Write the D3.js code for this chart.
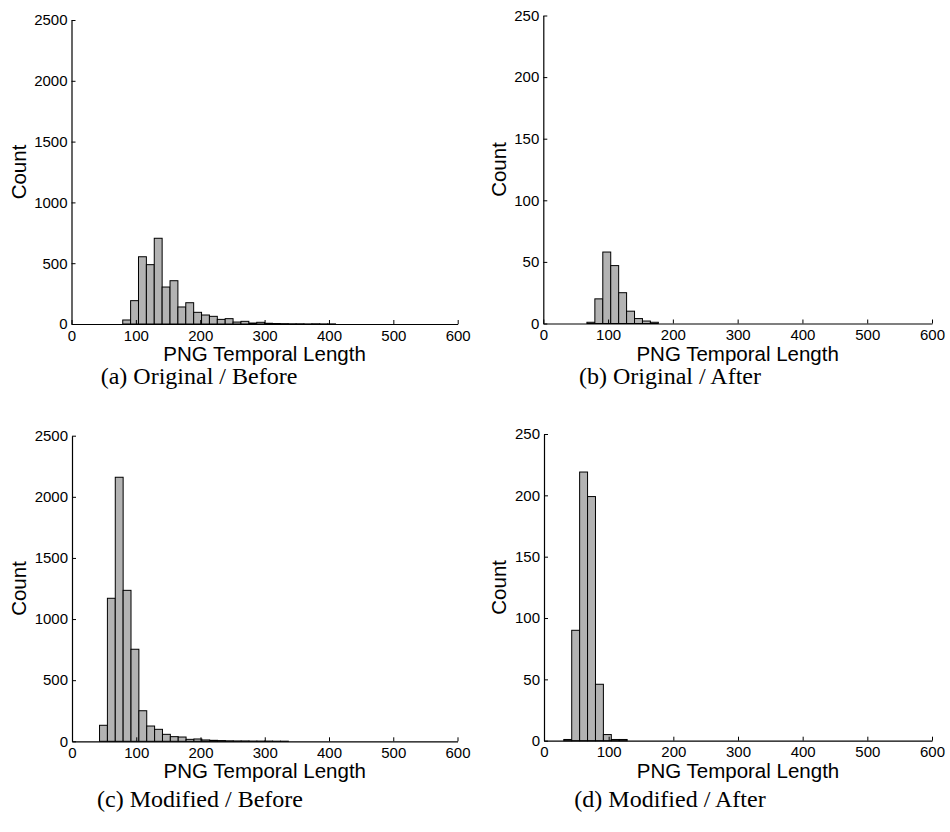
<!DOCTYPE html>
<html>
<head>
<meta charset="utf-8">
<script src="https://cdn.jsdelivr.net/npm/d3@7"></script>
<style>
  html, body { margin: 0; padding: 0; background: #ffffff; }
  svg { display: block; }
  .tick text { font-family: "Liberation Sans", Arial, sans-serif; font-size: 15px; fill: #000; }
  .axis-title { font-family: "Liberation Sans", Arial, sans-serif; font-size: 20.5px; fill: #000; }
  .caption { font-family: "Liberation Serif", "Times New Roman", serif; font-size: 24px; fill: #000; }
</style>
</head>
<body>
<svg id="fig" width="950" height="832"></svg>
<script>
// Histogram bins: 50 bins whose centres run evenly from 0 to 600
const binCount = 50;
const xMax = 600;
const xTicks = [0, 100, 200, 300, 400, 500, 600];

// Counts per bin (index 0..49)
const originalBefore = [
  0, 0, 0, 0, 0, 0, 0, 33, 192, 553,
  488, 705, 304, 356, 140, 175, 96, 74, 63, 38,
  44, 16, 22, 8, 14, 6, 4, 3, 2, 2,
  1, 2, 1, 1, 0, 0, 0, 0, 0, 0,
  0, 0, 0, 0, 0, 0, 0, 0, 0, 0
];
const originalAfter = [
  0, 0, 0, 0, 0, 0, 1, 20, 58, 47,
  25, 10, 4, 2, 1, 0, 0, 0, 0, 0,
  0, 0, 0, 0, 0, 0, 0, 0, 0, 0,
  0, 0, 0, 0, 0, 0, 0, 0, 0, 0,
  0, 0, 0, 0, 0, 0, 0, 0, 0, 0
];
const modifiedBefore = [
  0, 0, 0, 0, 131, 1170, 2160, 1235, 753, 250,
  125, 98, 57, 38, 35, 16, 19, 11, 8, 6,
  4, 3, 3, 2, 2, 2, 1, 1, 0, 0,
  0, 0, 0, 0, 0, 0, 0, 0, 0, 0,
  0, 0, 0, 0, 0, 0, 0, 0, 0, 0
];
const modifiedAfter = [
  0, 0, 0, 1, 90, 219, 199, 46, 5, 1,
  1, 0, 0, 0, 0, 0, 0, 0, 0, 0,
  0, 0, 0, 0, 0, 0, 0, 0, 0, 0,
  0, 0, 0, 0, 0, 0, 0, 0, 0, 0,
  0, 0, 0, 0, 0, 0, 0, 0, 0, 0
];

const yTicksBefore = [0, 500, 1000, 1500, 2000, 2500];
const yTicksAfter = [0, 50, 100, 150, 200, 250];

const captions = [
  "(a) Original / Before",
  "(b) Original / After",
  "(c) Modified / Before",
  "(d) Modified / After"
];
const xTitle = "PNG Temporal Length";
const yTitle = "Count";

// Panel geometry (plot area in page pixels)
const panels = [
  { counts: originalBefore, yTicks: yTicksBefore, x0: 71.5, x1: 457.7, yTop: 20,    yBase: 324,   capX: 199, capY: 384 },
  { counts: originalAfter,  yTicks: yTicksAfter,  x0: 543.3, x1: 932, yTop: 15.5,  yBase: 323.5, capX: 670, capY: 384 },
  { counts: modifiedBefore, yTicks: yTicksBefore, x0: 72,   x1: 457.5, yTop: 435.7, yBase: 741.3, capX: 200, capY: 807 },
  { counts: modifiedAfter,  yTicks: yTicksAfter,  x0: 544,  x1: 932, yTop: 434,   yBase: 740.7, capX: 670, capY: 807 }
];

const svg = d3.select("#fig");
const binStep = xMax / (binCount - 1);

panels.forEach((p, i) => {
  const yMax = p.yTicks[p.yTicks.length - 1];
  const x = d3.scaleLinear().domain([0, xMax]).range([p.x0, p.x1]);
  const y = d3.scaleLinear().domain([0, yMax]).range([p.yBase, p.yTop]);

  const g = svg.append("g");

  const clipId = "clip" + i;
  svg.append("clipPath").attr("id", clipId)
    .append("rect")
    .attr("x", p.x0).attr("y", p.yTop - 2)
    .attr("width", p.x1 - p.x0).attr("height", p.yBase - p.yTop + 4);

  const bins = p.counts.map((c, k) => ({ center: k * binStep, count: c }));

  g.append("g").attr("clip-path", `url(#${clipId})`)
    .selectAll("rect")
    .data(bins)
    .join("rect")
    .attr("x", d => x(d.center - binStep / 2))
    .attr("width", d => x(d.center + binStep / 2) - x(d.center - binStep / 2))
    .attr("y", d => y(d.count))
    .attr("height", d => p.yBase - y(d.count))
    .attr("fill", "#b3b3b3")
    .attr("stroke", "#000")
    .attr("stroke-width", 1);

  // Axes with inward ticks
  const yAxis = g.append("g")
    .attr("transform", `translate(${p.x0},0)`)
    .call(d3.axisLeft(y).tickValues(p.yTicks).tickFormat(d3.format("d"))
      .tickSizeInner(-4).tickSizeOuter(0).tickPadding(4));
  const xAxis = g.append("g")
    .attr("transform", `translate(0,${p.yBase})`)
    .call(d3.axisBottom(x).tickValues(xTicks).tickFormat(d3.format("d"))
      .tickSizeInner(-4).tickSizeOuter(0).tickPadding(6));

  [yAxis, xAxis].forEach(a => {
    a.select(".domain").attr("stroke", "#000").attr("stroke-width", 1.2);
    a.selectAll(".tick line").attr("stroke", "#000").attr("stroke-width", 1);
    a.attr("font-size", null).attr("font-family", null);
  });

  let maxW = 0;
  yAxis.selectAll(".tick text").each(function () {
    maxW = Math.max(maxW, this.getComputedTextLength());
  });

  g.append("text")
    .attr("class", "axis-title")
    .attr("text-anchor", "middle")
    .attr("x", (p.x0 + p.x1) / 2)
    .attr("y", p.yBase + 37)
    .text(xTitle);

  g.append("text")
    .attr("class", "axis-title")
    .attr("text-anchor", "middle")
    .attr("transform", `translate(${p.x0 - maxW - 4 - 8.5},${(p.yTop + p.yBase) / 2}) rotate(-90)`)
    .text(yTitle);

  svg.append("text")
    .attr("class", "caption")
    .attr("text-anchor", "middle")
    .attr("x", p.capX)
    .attr("y", p.capY)
    .text(captions[i]);
});
</script>
</body>
</html>
